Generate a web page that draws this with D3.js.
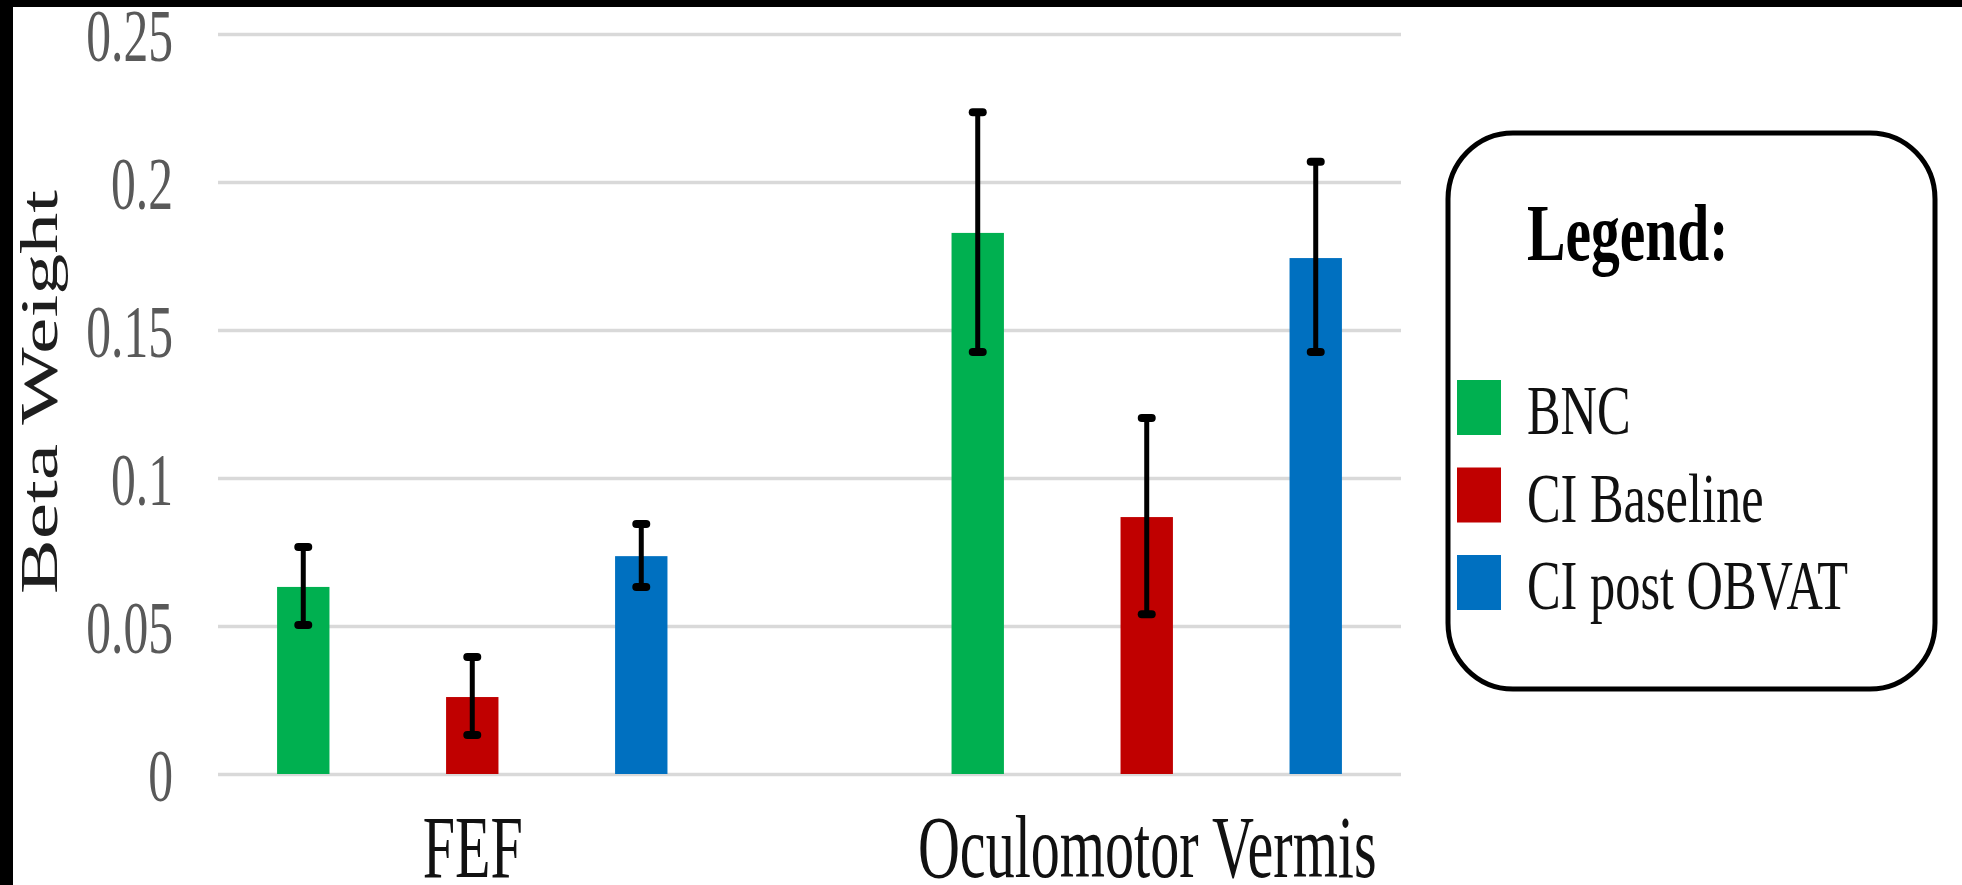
<!DOCTYPE html>
<html>
<head>
<meta charset="utf-8">
<script src="https://cdn.jsdelivr.net/npm/d3@7"></script>
<style>
  html, body { margin: 0; padding: 0; background: #fff; }
  svg { display: block; }
  text { font-family: "Liberation Serif", "Times New Roman", serif; }
</style>
</head>
<body>
<div class="chart"></div>
<script>
// chart values
const regions = ["FEF", "Oculomotor Vermis"]
const series = ["BNC", "CI Baseline", "CI post OBVAT"]
const colors = ["#00b050", "#c00000", "#0070c0"]

const meanBNC  = [0.0632, 0.1828]
const lowBNC   = [0.0503, 0.1426]
const highBNC  = [0.0767, 0.2236]

const meanBase = [0.0260, 0.0868]
const lowBase  = [0.0132, 0.0540]
const highBase = [0.0395, 0.1203]

const meanPost = [0.0736, 0.1743]
const lowPost  = [0.0632, 0.1426]
const highPost = [0.0845, 0.2068]

const tickValues = [0, 0.05, 0.1, 0.15, 0.2, 0.25]
const tickLabels = ["0", "0.05", "0.1", "0.15", "0.2", "0.25"]

const w = 1962
const h = 885

// plot box
const x0 = 218, x1 = 1401
const yBottom = 774, yTop = 34

const svg = d3.select(".chart")
  .append("svg")
    .attr("width", w)
    .attr("height", h)

svg.append("rect").attr("width", w).attr("height", h).attr("fill", "#fff")
// black frame left over on the top and left of the original picture
svg.append("rect").attr("x", 0).attr("y", 0).attr("width", w).attr("height", 7).attr("fill", "#000")
svg.append("rect").attr("x", 0).attr("y", 0).attr("width", 13).attr("height", h).attr("fill", "#000")

const y = d3.scaleLinear()
  .domain([0, 0.25])
  .range([yBottom, yTop])

const xRegion = d3.scalePoint()
  .domain(regions)
  .range([x0, x1])
  .padding(0.377)

const xSeries = d3.scaleBand()
  .domain(series)
  .range([-253.5, 253.5])
  .paddingInner(0.69)
  .paddingOuter(0.345)

// table built from the arrays
const data = []
regions.forEach((r, i) => {
  data.push({ region: r, series: series[0], mean: meanBNC[i], low: lowBNC[i], high: highBNC[i] })
  data.push({ region: r, series: series[1], mean: meanBase[i], low: lowBase[i], high: highBase[i] })
  data.push({ region: r, series: series[2], mean: meanPost[i], low: lowPost[i], high: highPost[i] })
})

// y axis: gridlines + labels
const yAxis = svg.append("g")
  .attr("transform", `translate(${x0},0)`)
  .call(d3.axisLeft(y)
    .tickValues(tickValues)
    .tickFormat((d, i) => tickLabels[i])
    .tickSize(-(x1 - x0)))

yAxis.select(".domain").remove()
yAxis.selectAll(".tick line")
  .attr("stroke", "#d9d9d9")
  .attr("stroke-width", 3.5)
yAxis.selectAll(".tick text")
  .attr("x", null)
  .attr("dy", null)
  .attr("transform", `translate(${173 - x0},26) scale(0.67,1)`)
  .attr("text-anchor", "end")
  .attr("font-size", 74)
  .attr("fill", "#595959")
  .style("font-family", '"Liberation Serif", "Times New Roman", serif')

// x axis labels
const xAxis = svg.append("g")
  .attr("transform", `translate(0,${yBottom})`)
  .call(d3.axisBottom(xRegion).tickSize(0))

xAxis.select(".domain").remove()
xAxis.selectAll(".tick text")
  .attr("y", null)
  .attr("dy", null)
  .attr("transform", "translate(0,103) scale(0.66,1)")
  .attr("font-size", 88)
  .attr("fill", "#111")
  .style("font-family", '"Liberation Serif", "Times New Roman", serif')

// y title
svg.append("text")
  .attr("transform", "translate(57,392) scale(0.64,1) rotate(-90)")
  .attr("text-anchor", "middle")
  .attr("font-size", 82)
  .attr("fill", "#1e1e1e")
  .text("Beta Weight")

const cx = d => xRegion(d.region) + xSeries(d.series) + xSeries.bandwidth() / 2

// bars
svg.append("g")
  .selectAll("rect")
  .data(data)
  .join("rect")
    .attr("x", d => xRegion(d.region) + xSeries(d.series))
    .attr("y", d => y(d.mean))
    .attr("width", xSeries.bandwidth())
    .attr("height", d => y(0) - y(d.mean))
    .attr("fill", d => colors[series.indexOf(d.series)])

// error bars
const err = svg.append("g")
  .attr("stroke", "#000")
  .attr("stroke-linecap", "round")

err.selectAll(".stem")
  .data(data)
  .join("line")
    .attr("class", "stem")
    .attr("x1", cx).attr("x2", cx)
    .attr("y1", d => y(d.high)).attr("y2", d => y(d.low))
    .attr("stroke-width", 5)

err.selectAll(".cap")
  .data(data.flatMap(d => [{ d, v: d.high }, { d, v: d.low }]))
  .join("line")
    .attr("class", "cap")
    .attr("x1", c => cx(c.d) - 5).attr("x2", c => cx(c.d) + 5)
    .attr("y1", c => y(c.v)).attr("y2", c => y(c.v))
    .attr("stroke-width", 8)

// legend
const legend = svg.append("g")

legend.append("rect")
  .attr("x", 1448).attr("y", 133)
  .attr("width", 487).attr("height", 556)
  .attr("rx", 65).attr("ry", 66)
  .attr("fill", "#fff")
  .attr("stroke", "#000")
  .attr("stroke-width", 5)

legend.append("text")
  .attr("transform", "translate(1527,260) scale(0.72,1)")
  .attr("font-size", 80)
  .attr("font-weight", "bold")
  .attr("fill", "#000")
  .text("Legend:")

const item = legend.selectAll(".item")
  .data(series)
  .join("g")
    .attr("class", "item")
    .attr("transform", (d, i) => `translate(0,${434 + i * 87.5})`)

item.append("rect")
  .attr("x", 1457).attr("y", -54)
  .attr("width", 44).attr("height", 55)
  .attr("fill", (d, i) => colors[i])

item.append("text")
  .attr("transform", "translate(1527,0) scale(0.72,1)")
  .attr("font-size", 70)
  .attr("fill", "#111")
  .text(d => d)
</script>
</body>
</html>
